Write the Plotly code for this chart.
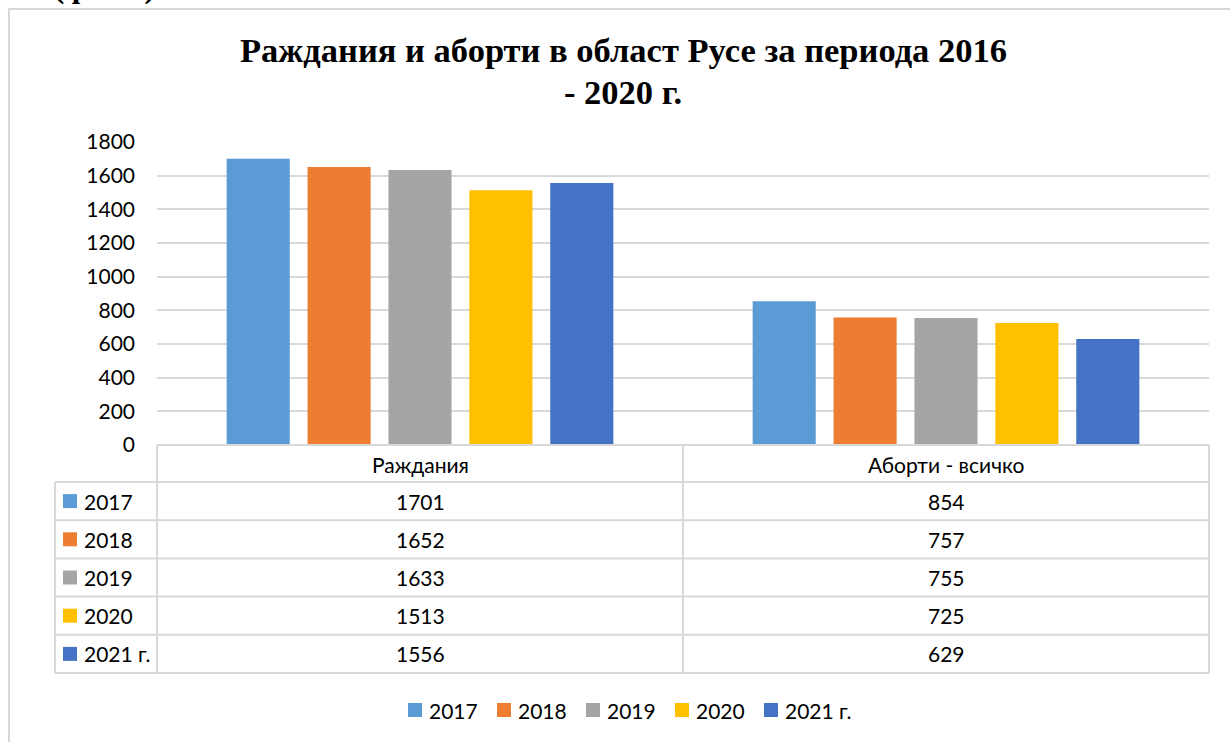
import plotly.graph_objects as go

categories = ["Раждания", "Аборти - всичко"]
series_names = ["2017", "2018", "2019", "2020", "2021 г."]
values = {
    "2017": [1701, 854],
    "2018": [1652, 757],
    "2019": [1633, 755],
    "2020": [1513, 725],
    "2021 г.": [1556, 629],
}
colors = ["#5B9BD5", "#ED7D31", "#A5A5A5", "#FFC000", "#4472C4"]
y_ticks = [0, 200, 400, 600, 800, 1000, 1200, 1400, 1600, 1800]
title_lines = ["Раждания и аборти в област Русе за периода 2016", "- 2020 г."]
caption = "(фиг.1)"

W, H = 1230, 742
L, R, T, B = 157, 1209, 142, 445


def px(x):
    return (x - L) / (R - L)


def py(y):
    return (B - y) / (B - T)


FONT = "Lato, 'Open Sans', sans-serif"
FS = 21
GRID = "#d9d9d9"

fig = go.Figure()
for name, col in zip(series_names, colors):
    fig.add_trace(go.Bar(x=categories, y=values[name], name=name,
                         marker=dict(color=col, line=dict(width=0)),
                         showlegend=False))

shapes = []
annotations = []

# chart border
shapes.append(dict(type="rect", xref="paper", yref="paper",
                   x0=px(9), x1=px(1250), y0=py(9), y1=py(760),
                   line=dict(color=GRID, width=2), layer="below"))

# data table lines
row_top = 482
row_h = 38.2
n_rows = len(series_names)
bottom = row_top + n_rows * row_h
shapes.append(dict(type="line", xref="paper", yref="paper",
                   x0=px(157), x1=px(1209), y0=py(445), y1=py(445),
                   line=dict(color=GRID, width=2)))
for k in range(n_rows + 1):
    yy = row_top + k * row_h
    shapes.append(dict(type="line", xref="paper", yref="paper",
                       x0=px(55), x1=px(1209), y0=py(yy), y1=py(yy),
                       line=dict(color=GRID, width=2)))
shapes.append(dict(type="line", xref="paper", yref="paper",
                   x0=px(55), x1=px(55), y0=py(row_top), y1=py(bottom),
                   line=dict(color=GRID, width=2)))
for xx in [157, 683, 1209]:
    shapes.append(dict(type="line", xref="paper", yref="paper",
                       x0=px(xx), x1=px(xx), y0=py(445), y1=py(bottom),
                       line=dict(color=GRID, width=2)))

# header texts
for c in categories:
    annotations.append(dict(x=c, xref="x", y=py(464), yref="paper",
                            text=c, showarrow=False,
                            font=dict(family=FONT, size=FS, color="#000000"),
                            xanchor="center", yanchor="middle"))

# rows
for k, (name, col) in enumerate(zip(series_names, colors)):
    yc = row_top + row_h / 2 + k * row_h
    shapes.append(dict(type="rect", xref="paper", yref="paper",
                       x0=px(63), x1=px(77), y0=py(yc - 7), y1=py(yc + 7),
                       fillcolor=col, line=dict(width=0)))
    annotations.append(dict(x=px(82), xref="paper", y=py(yc), yref="paper",
                            text=name, showarrow=False,
                            font=dict(family=FONT, size=FS, color="#000000"),
                            xanchor="left", yanchor="middle"))
    for ci, c in enumerate(categories):
        annotations.append(dict(x=c, xref="x", y=py(yc), yref="paper",
                                text=str(values[name][ci]), showarrow=False,
                                font=dict(family=FONT, size=FS, color="#000000"),
                                xanchor="center", yanchor="middle"))

# legend (bottom)
leg_y = 710
for i, (name, col) in enumerate(zip(series_names, colors)):
    x0 = 408 + 89 * i
    shapes.append(dict(type="rect", xref="paper", yref="paper",
                       x0=px(x0), x1=px(x0 + 14), y0=py(leg_y - 7), y1=py(leg_y + 7),
                       fillcolor=col, line=dict(width=0)))
    annotations.append(dict(x=px(x0 + 19), xref="paper", y=py(leg_y), yref="paper",
                            text=name, showarrow=False,
                            font=dict(family=FONT, size=FS, color="#000000"),
                            xanchor="left", yanchor="middle"))

# title
for i, line in enumerate(title_lines):
    annotations.append(dict(x=px(623), xref="paper", y=py(50 + 42 * i), yref="paper",
                            text="<b>" + line + "</b>", showarrow=False,
                            font=dict(family="'Liberation Serif', 'Times New Roman', serif",
                                      size=34.5, color="#000000"),
                            xanchor="center", yanchor="middle"))

# clipped caption at the very top-left
annotations.append(dict(x=px(51), xref="paper", y=py(-14), yref="paper",
                        text="<b>" + caption + "</b>", showarrow=False,
                        font=dict(family="'Liberation Serif', serif", size=34, color="#000000"),
                        xanchor="left", yanchor="middle"))

fig.update_layout(
    width=W, height=H,
    margin=dict(l=L, r=W - R, t=T, b=H - B, autoexpand=False),
    paper_bgcolor="white", plot_bgcolor="white",
    barmode="group", bargap=0.231, bargroupgap=0.22,
    showlegend=False,
    shapes=shapes, annotations=annotations,
    xaxis=dict(showticklabels=False, showline=False, showgrid=False,
               zeroline=False, fixedrange=True),
    yaxis=dict(range=[0, 1800], tickvals=y_ticks, ticktext=[str(v) for v in y_ticks],
               showgrid=True, gridcolor=GRID, gridwidth=2, zeroline=False,
               showline=False, ticks="", ticklabelstandoff=21,
               tickfont=dict(family=FONT, size=FS, color="#000000"),
               fixedrange=True),
)

fig.write_html("out.html", config={"displayModeBar": False},
               post_script="document.body.style.margin='0';document.body.style.overflow='hidden';")
